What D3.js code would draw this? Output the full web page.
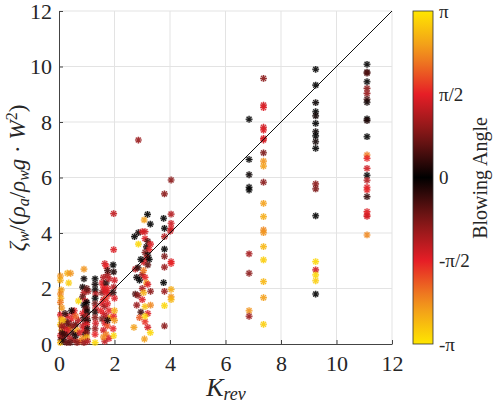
<!DOCTYPE html>
<html><head><meta charset="utf-8">
<script src="https://cdn.jsdelivr.net/npm/d3@7"></script>
</head><body style="margin:0">
<svg id="c" width="500" height="403" font-family="Liberation Serif" style="background:#fff"></svg>
<script>
// ---- data: [K_rev, zeta ratio, blowing angle (rad)] ----
const xTicks = [0, 2, 4, 6, 8, 10, 12];
const yTicks = [0, 2, 4, 6, 8, 10, 12];
const cbTickValues = [-Math.PI, -Math.PI/2, 0, Math.PI/2, Math.PI];
const cbTickLabels = ["-π", "-π/2", "0", "π/2", "π"];

const groupK0 = [[0.05,2.45,2.4],[0.05,2.3,2.6],[0.08,1.95,2.5],[0.05,1.8,2.3],[0.07,1.65,2.6],[0.05,1.5,2.2],[0.1,1.3,2.4],[0.05,1.05,1.5],[0.08,0.9,2.5],[0.05,0.7,2.8],[0.1,0.5,2.3],[0.05,0.3,1.4],[0.07,0.15,0.5],[0.05,0.05,2.7],[0.12,0.4,0.3],[0.15,0.25,0.8],[0.18,0.1,0.2],
[0.3,2.55,2.6],[0.42,2.55,2.4],[0.35,2.2,2.9],[0.3,1.0,1.4],[0.25,0.8,0.5],[0.35,0.6,0.2],[0.3,0.35,0.9],[0.4,0.2,1.2],[0.28,0.05,0.7],[0.45,0.9,1.6],[0.5,1.1,1.3],[0.4,0.55,2.3],[0.5,0.4,0.4],[0.55,0.15,1.0],[0.6,0.7,0.6],[0.55,1.2,1.5],[0.65,0.5,2.5],[0.2,0.6,1.1],[0.15,0.85,2.7],[0.22,1.1,0.3],[0.6,0.3,0.1],[0.7,0.85,1.2],[0.7,1.55,3.0],[0.45,1.2,0.1],[0.35,0.75,0.7],[0.5,0.65,0.9],[0.3,0.5,1.5],[0.2,0.35,0.4],[0.1,0.65,1.0],[0.6,1.0,2.0],[0.75,0.4,1.4],[0.75,0.1,2.0],[0.4,0.05,0.6],[0.65,0.05,0.9]];
const groupK1 = [[0.9,2.7,2.4],[0.9,2.35,0.05],[0.85,2.05,0.1],[0.9,1.85,1.2],[0.85,1.7,0.6],[0.95,1.55,1.4],[0.9,1.4,0.0],[0.95,1.25,0.9],[0.85,1.1,1.5],[0.9,0.95,0.3],[0.95,0.8,0.7],[0.85,0.65,1.3],[0.9,0.5,1.6],[0.95,0.35,0.2],[0.85,0.2,2.3],[0.9,0.05,1.0],
[1.0,1.5,0.0],[1.0,1.3,0.4],[1.02,1.15,0.1],[1.0,1.0,1.1],[1.03,0.85,0.3],[1.0,0.7,1.5],[1.02,0.55,0.2],[1.0,0.4,0.8],[1.0,0.25,2.6],[1.03,0.1,1.2],[1.05,1.9,1.0],[1.0,2.0,0.6],
[1.3,2.35,0.0],[1.3,2.15,0.1],[1.3,1.95,0.05],[1.32,1.8,1.2],[1.3,1.65,0.0],[1.3,1.45,0.7],[1.32,1.3,1.3],[1.3,1.15,0.2],[1.3,0.95,0.9],[1.32,0.75,1.4],[1.3,0.55,1.0],[1.3,0.35,1.6],[1.3,0.05,3.0]];
const groupK2 = [[1.55,2.2,1.5],[1.6,2.4,1.2],[1.65,2.9,1.4],[1.7,2.8,1.6],[1.75,2.5,1.1],[1.6,2.05,1.6],[1.55,1.85,0.9],[1.65,1.95,1.5],[1.7,2.2,0.3],[1.75,2.0,1.6],[1.8,1.8,1.4],[1.6,1.6,1.3],[1.7,1.65,1.7],[1.55,1.45,1.5],[1.65,1.35,1.0],[1.75,1.45,1.5],[1.8,1.2,1.6],[1.6,1.1,1.4],[1.7,1.0,1.2],[1.55,0.9,0.8],[1.65,0.75,1.5],[1.75,0.65,1.9],[1.6,0.5,1.4],[1.7,0.35,2.2],[1.8,0.2,1.5],[1.65,0.1,1.3],[1.75,2.65,0.4],[1.8,2.35,1.3],[1.5,1.2,1.6],[1.85,0.95,2.6],[1.7,1.85,1.5],[1.6,0.25,2.3],[1.75,0.85,0.2],
[1.97,4.7,1.3],[1.97,3.4,1.5],[1.95,2.85,0.0],[1.97,2.6,0.2],[2.0,2.3,1.4],[1.97,2.05,1.2],[1.95,1.85,0.3],[2.0,1.65,1.5],[1.97,1.0,1.6],[2.0,0.85,2.4],[1.95,0.55,1.6],[1.97,0.3,3.0],[2.0,1.2,2.6]];
const groupK3 = [[2.86,7.35,1.0],[2.72,3.87,0.0],[2.86,4.01,0.1],[3.0,4.05,1.5],[3.1,4.05,1.4],[3.19,4.67,0.0],[3.07,4.47,2.5],[3.29,4.32,0.0],[2.86,3.6,3.0],[3.1,3.8,1.5],[3.2,3.7,0.5],[3.15,3.5,0.2],[3.25,3.4,1.6],[3.1,3.3,0.8],[3.2,3.2,0.1],[3.15,3.1,1.2],[3.25,3.05,0.0],[3.3,3.6,1.5],[3.05,2.95,1.4],[3.2,2.85,0.6],[2.75,2.7,1.2],[2.85,2.75,0.3],[2.95,3.05,0.0],[2.8,2.4,0.1],[3.0,2.5,1.0],[3.1,2.4,1.6],[3.15,2.2,2.5],[2.75,1.8,0.5],[2.85,1.75,0.9],[3.0,2.0,1.1],[3.2,2.15,1.5],[3.05,1.85,2.6],[3.3,1.9,0.9],[2.8,1.4,1.0],[2.95,1.15,0.4],[3.1,1.35,2.8],[3.2,1.1,1.5],[3.3,1.4,2.3],[2.9,0.95,2.0],[3.1,0.8,1.7],[3.2,0.6,1.4],[2.7,0.6,2.5],[3.08,0.18,2.5],[3.29,0.41,3.0],[3.0,1.6,1.5],[3.05,2.65,2.2],[2.9,2.3,0.0],[3.1,1.0,3.0]];
const groupK4 = [[3.8,5.41,0.9],[3.77,4.53,0.0],[3.8,4.17,0.0],[3.8,3.87,1.2],[3.8,3.42,0.0],[3.8,3.16,0.8],[3.8,2.77,1.0],[3.77,2.21,0.0],[3.8,1.9,1.0],[3.8,1.38,3.0],[3.8,0.65,0.9],
[4.04,5.91,0.9],[4.04,4.68,1.2],[4.04,4.35,1.4],[4.04,4.17,1.5],[4.01,4.07,1.3],[4.04,2.97,1.5],[4.04,2.9,1.6],[4.04,1.97,2.6],[4.04,1.7,2.4],[4.04,1.6,2.7]];
const groupK7 = [[6.85,8.1,0.0],[6.85,6.65,0.0],[6.85,6.1,0.05],[6.85,5.65,0.0],[6.85,5.55,0.0],[6.85,3.25,1.1],[6.85,2.55,0.9],[6.85,1.2,2.4],[6.85,1.0,1.0],
[7.37,9.57,0.9],[7.37,8.61,1.4],[7.37,8.52,1.5],[7.37,7.81,1.4],[7.37,7.71,1.5],[7.37,7.41,1.5],[7.37,7.35,1.4],[7.37,6.89,0.8],[7.37,6.59,2.4],[7.37,6.41,2.5],[7.37,5.83,0.9],[7.37,5.07,2.5],[7.37,4.59,2.6],[7.37,4.11,2.3],[7.37,4.01,2.4],[7.37,3.51,2.7],[7.37,3.03,2.9],[7.37,2.25,2.7],[7.37,1.67,2.5],[7.37,0.71,2.9]];
const groupK9 = [[9.25,9.9,0.0],[9.25,9.33,0.0],[9.25,8.7,0.05],[9.25,8.37,0.0],[9.25,8.22,0.1],[9.25,7.95,0.0],[9.25,7.65,0.05],[9.25,7.5,0.0],[9.25,7.29,0.1],[9.25,7.05,0.0],[9.25,5.77,0.9],[9.25,5.59,0.8],[9.25,4.62,0.0],[9.25,2.97,3.0],[9.25,2.67,1.4],[9.25,2.49,3.0],[9.25,2.28,2.9],[9.25,1.8,0.0]];
const groupK11 = [[11.1,10.08,0.0],[11.1,9.8,0.3],[11.1,9.76,0.5],[11.1,9.45,0.0],[11.1,9.21,0.9],[11.1,9.03,1.0],[11.1,8.82,0.4],[11.1,8.71,0.1],[11.1,8.11,0.0],[11.1,8.05,0.2],[11.1,7.47,0.0],[11.1,6.81,2.2],[11.1,6.69,1.6],[11.1,6.33,1.4],[11.1,6.08,0.0],[11.1,5.9,1.2],[11.1,5.65,1.5],[11.1,5.55,1.6],[11.1,5.31,0.3],[11.1,4.77,1.5],[11.1,4.65,1.6],[11.1,4.6,1.4],[11.1,3.93,2.3]];

const allPoints = [].concat(groupK0, groupK1, groupK2, groupK3, groupK4, groupK7, groupK9, groupK11);

// ---- layout ----
const svg = d3.select("#c");
const L = 59, R = 392, T = 11, B = 344;
const x = d3.scaleLinear().domain([0, 12]).range([L, R]);
const y = d3.scaleLinear().domain([0, 12]).range([B, T]);
const P = Math.PI;
const color = d3.scaleLinear()
  .domain([-P, -3*P/4, -P/2, -P/4, 0, P/4, P/2, 3*P/4, P])
  .range(["#ffe600", "#f0901f", "#e61e26", "#7a1616", "#000000", "#7a1616", "#e61e26", "#f0901f", "#ffe600"]);
const FF = "Liberation Serif";
const ink = "#262626";

// grid
const grid = svg.append("g");
grid.selectAll("line.gx").data(xTicks.filter(d => d > 0)).join("line").attr("class", "gx")
  .attr("x1", d => x(d)).attr("x2", d => x(d)).attr("y1", T).attr("y2", B)
  .attr("stroke", "#e3e3e3").attr("stroke-width", 1);
grid.selectAll("line.gy").data(yTicks.filter(d => d > 0)).join("line").attr("class", "gy")
  .attr("x1", L).attr("x2", R).attr("y1", d => y(d)).attr("y2", d => y(d))
  .attr("stroke", "#e3e3e3").attr("stroke-width", 1);

// axes
const xAxis = svg.append("g").attr("transform", `translate(0,${B})`)
  .call(d3.axisBottom(x).tickValues(xTicks).tickSizeInner(-4).tickSizeOuter(0).tickPadding(10).tickFormat(d3.format("d")));
const yAxis = svg.append("g").attr("transform", `translate(${L},0)`)
  .call(d3.axisLeft(y).tickValues(yTicks).tickSizeInner(-4).tickSizeOuter(0).tickPadding(8).tickFormat(d3.format("d")));
[xAxis, yAxis].forEach(a => {
  a.attr("font-family", FF).attr("font-size", 22);
  a.select(".domain").attr("stroke", "#444");
  a.selectAll(".tick line").attr("stroke", "#444");
  a.selectAll("text").attr("font-family", FF).attr("font-size", 22).attr("fill", ink);
});
xAxis.selectAll("text").attr("dy", "0.71em").attr("y", 11);
yAxis.selectAll("text").attr("x", -7);

// points
const star = s => {
  const d = s * 0.72;
  return `M0,${-s}L0,${s}M${-s},0L${s},0M${-d},${-d}L${d},${d}M${-d},${d}L${d},${-d}`;
};
const pts = svg.append("g").selectAll("g").data(allPoints).join("g")
  .attr("transform", d => `translate(${x(d[0])},${y(d[1])})`);
pts.append("circle").attr("r", 3.4).attr("fill", d => color(d[2])).attr("opacity", 0.3);
pts.append("path").attr("d", star(3.4)).attr("stroke", d => color(d[2])).attr("stroke-width", 1.1).attr("fill", "none").attr("opacity", 0.85);

// 1:1 line
svg.append("line").attr("x1", x(0)).attr("y1", y(0)).attr("x2", x(12)).attr("y2", y(12))
  .attr("stroke", "#111").attr("stroke-width", 1);

// axis labels
const xl = svg.append("text").attr("x", 226).attr("y", 396).attr("text-anchor", "middle")
  .attr("font-family", FF).attr("fill", ink).attr("font-style", "italic");
xl.append("tspan").attr("font-size", 26).text("K");
xl.append("tspan").attr("font-size", 18).attr("dy", 4).text("rev");

const yl = svg.append("text").attr("transform", "translate(25,178) rotate(-90)").attr("text-anchor", "middle")
  .attr("font-family", FF).attr("fill", ink).attr("font-size", 23);
const parts = [
  ["ζ", "italic", 23, 0], ["w", "italic", 16, 4], ["/(", "normal", 23, -4],
  ["ρ", "italic", 23, 0], ["a", "italic", 16, 4], ["/", "normal", 23, -4],
  ["ρ", "italic", 23, 0], ["w", "italic", 16, 4], ["g", "italic", 23, -4],
  [" · ", "normal", 23, 0], ["W", "italic", 23, 0], ["2", "normal", 16, -8], [")", "normal", 23, 8]
];
parts.forEach(p => yl.append("tspan").attr("font-style", p[1]).attr("font-size", p[2]).attr("dy", p[3]).text(p[0]));

// colorbar
const cbX = 413, cbW = 20;
const cy = d3.scaleLinear().domain([-P, P]).range([B, T]);
const defs = svg.append("defs");
const grad = defs.append("linearGradient").attr("id", "cbg").attr("x1", 0).attr("y1", 1).attr("x2", 0).attr("y2", 0);
d3.range(0, 1.0001, 0.05).forEach(t => grad.append("stop").attr("offset", t).attr("stop-color", color(-P + 2 * P * t)));
svg.append("rect").attr("x", cbX).attr("y", T).attr("width", cbW).attr("height", B - T)
  .attr("fill", "url(#cbg)").attr("stroke", "#333").attr("stroke-width", 0.8);
svg.append("g").selectAll("text").data(cbTickValues).join("text")
  .attr("x", cbX + cbW + 6).attr("y", d => cy(d)).attr("dy", "0.35em")
  .attr("font-family", FF).attr("font-size", 19).attr("fill", ink)
  .text((d, i) => cbTickLabels[i]);
svg.append("text").attr("transform", "translate(487,178) rotate(-90)").attr("text-anchor", "middle")
  .attr("font-family", FF).attr("font-size", 20).attr("fill", ink).text("Blowing Angle");
</script>
</body></html>
